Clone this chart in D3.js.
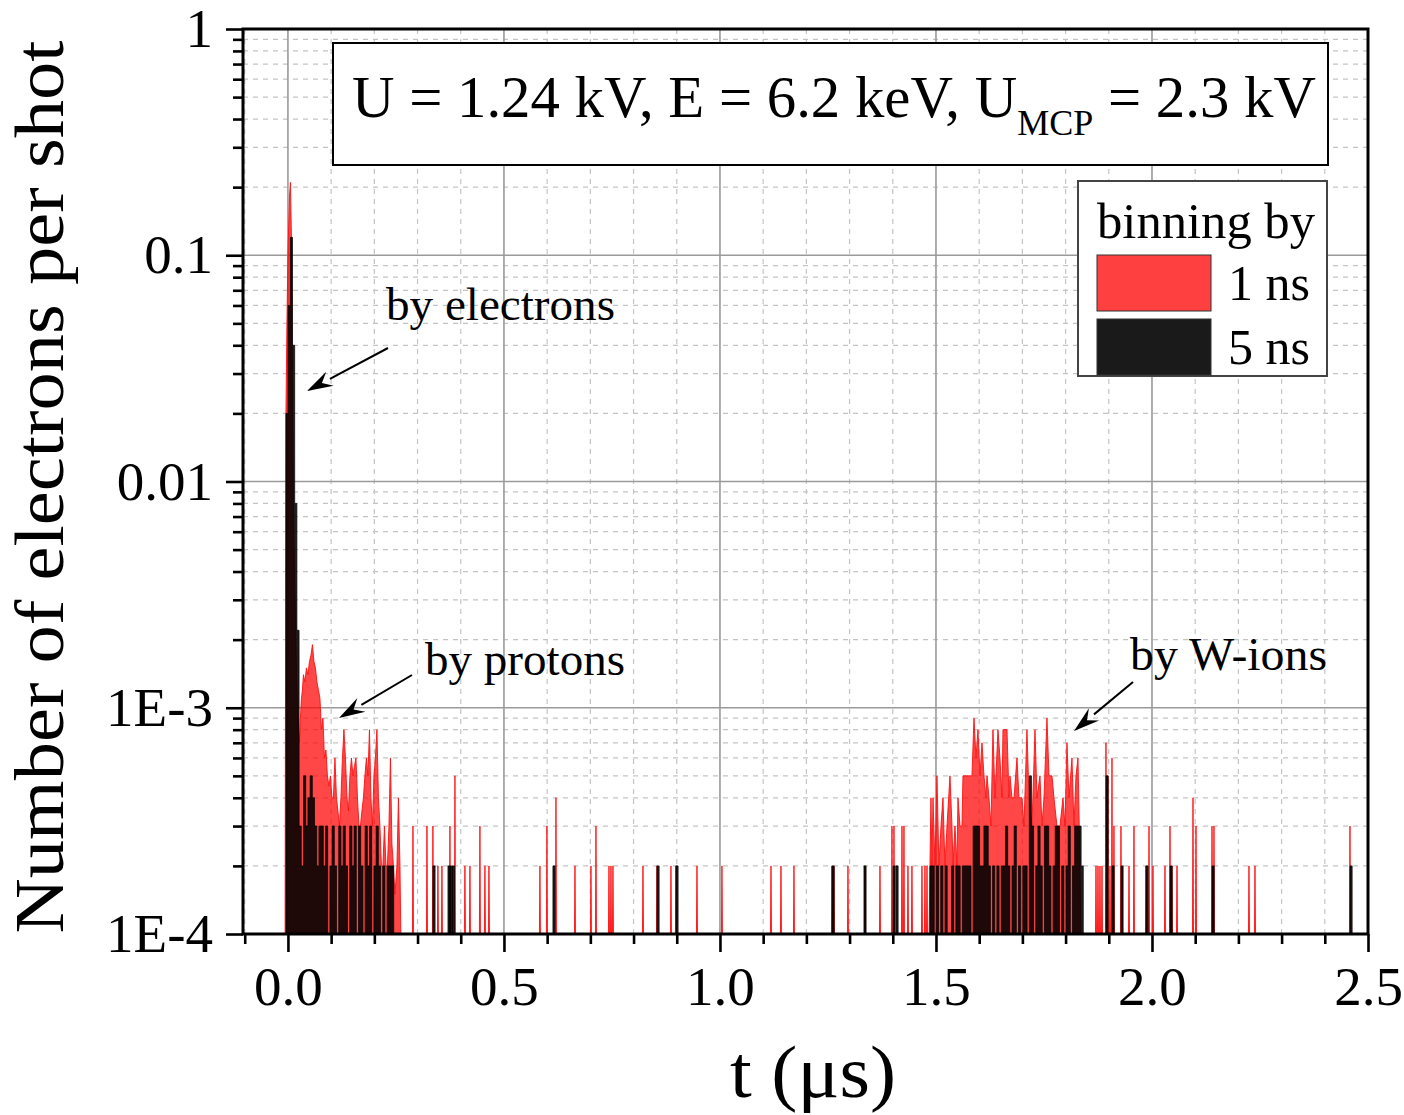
<!DOCTYPE html>
<html><head><meta charset="utf-8">
<script src="https://cdn.jsdelivr.net/npm/d3@7"></script>
<style>
html,body{margin:0;padding:0;background:#fff;}
svg{display:block;}
text{font-family:"Liberation Serif","Times New Roman",serif;fill:#000;white-space:pre;}
</style>
</head><body>
<svg id="c" width="1404" height="1115"></svg>
<script>
// ---------------- DATA ----------------
const xTickVals = [0, 0.5, 1.0, 1.5, 2.0, 2.5];
const yTickVals = [1, 0.1, 0.01, 1e-3, 1e-4];
const yTickLabels = ["1", "0.1", "0.01", "1E-3", "1E-4"];

// 1 ns binning (red): electron + proton region (contiguous)
const redPeakT = [-0.0046,-0.0023,0.0000,0.0035,0.0058,0.0081,0.0104,0.0127,0.0150,0.0174,0.0197,0.0220,0.0243,0.0266,0.0289,0.0313,0.0336,0.0359,0.0394,0.0428,0.0463,0.0498,0.0532,0.0567,0.0602,0.0637,0.0671,0.0706,0.0741,0.0775,0.0810,0.0845,0.0880,0.0914,0.0949,0.0984,0.1019,0.1053,0.1088,0.1123,0.1157,0.1192,0.1227,0.1262,0.1296,0.1331,0.1366,0.1400,0.1435,0.1470,0.1505,0.1539,0.1574,0.1609,0.1644,0.1678,0.1713,0.1748,0.1782,0.1817,0.1852,0.1887,0.1921,0.1956,0.1991,0.2025,0.2060,0.2095,0.2130,0.2164,0.2199,0.2234,0.2269,0.2303,0.2338,0.2373,0.2407,0.2442,0.2477,0.2523,0.2558,0.2593];
const redPeakV = [0.02,0.05,0.10,0.18,0.21,0.12,0.03,0.008,0.004,0.0025,0.0015,0.001,8e-4,7e-4,9e-4,1.1e-3,1.2e-3,1.4e-3,1.3e-3,1.5e-3,1.4e-3,1.6e-3,1.7e-3,1.9e-3,1.6e-3,1.5e-3,1.3e-3,1.2e-3,1.1e-3,8e-4,9e-4,6e-4,6.5e-4,5e-4,4.5e-4,5e-4,4e-4,4e-4,6e-4,4e-4,3.5e-4,3e-4,4e-4,6e-4,8e-4,6e-4,4e-4,3.5e-4,5e-4,6e-4,5e-4,5.5e-4,6e-4,4e-4,3e-4,3e-4,3.5e-4,4e-4,5e-4,6e-4,5e-4,8e-4,4e-4,3e-4,5e-4,6e-4,8e-4,4e-4,3e-4,2e-4,2e-4,3e-4,2e-4,2e-4,3e-4,6e-4,2.5e-4,2e-4,1.5e-4,2e-4,4e-4,2e-4];

// 1 ns binning (red): W-ion region (contiguous)
const redWionT = [1.4861,1.4884,1.4907,1.4931,1.4977,1.5023,1.5069,1.5116,1.5162,1.5208,1.5255,1.5324,1.5370,1.5394,1.5440,1.5486,1.5509,1.5556,1.5602,1.5625,1.5694,1.5764,1.5833,1.5880,1.5926,1.5972,1.6019,1.6065,1.6111,1.6157,1.6181,1.6227,1.6273,1.6319,1.6366,1.6435,1.6481,1.6528,1.6551,1.6644,1.6690,1.6713,1.6759,1.6806,1.6875,1.6921,1.6991,1.7037,1.7106,1.7153,1.7222,1.7292,1.7338,1.7407,1.7454,1.7500,1.7569,1.7616,1.7685,1.7731,1.7801,1.7870,1.7940,1.7986,1.8032,1.8079,1.8148,1.8194,1.8241,1.8287,1.8333];
const redWionV = [2e-4,4e-4,2e-4,4e-4,2e-4,5e-4,2e-4,3e-4,4e-4,2e-4,3e-4,5e-4,3e-4,2e-4,3e-4,2e-4,4e-4,3e-4,3e-4,5e-4,5e-4,5e-4,5e-4,9e-4,6e-4,8e-4,5e-4,7e-4,5e-4,4e-4,5e-4,4e-4,3e-4,8e-4,4e-4,8e-4,6e-4,4e-4,8e-4,8e-4,4e-4,5e-4,4e-4,4e-4,6e-4,4e-4,4e-4,3e-4,8e-4,4e-4,3e-4,8e-4,4e-4,5e-4,3e-4,4e-4,9e-4,5e-4,5e-4,4e-4,3e-4,3e-4,4e-4,3e-4,7e-4,4e-4,6e-4,3e-4,5e-4,6e-4,2e-4];

// 1 ns binning (red): isolated spikes
const redSpikeT = [0.2894,0.3218,0.3356,0.3472,0.3565,0.3750,0.3866,0.4097,0.4213,0.4444,0.4560,0.4653,
  0.5833,0.5995,0.6204,0.6644,0.7014,0.7130,0.7431,0.7477,0.7523,
  0.8218,0.8542,0.8866,0.8981,0.9468,1.0046,1.1181,1.1412,1.1713,1.2593,1.2639,1.2963,1.3356,1.3704,
  1.3981,1.4028,1.4213,1.4259,1.4352,1.4444,1.4676,1.4745,1.4792,
  1.8704,1.8750,1.8796,1.8843,1.8935,1.8981,1.9028,1.9074,1.9120,
  1.9282,1.9306,1.9468,1.9583,1.9861,1.9931,2.0023,2.0301,2.0417,2.0463,2.0579,
  2.0949,2.1019,2.1389,2.1435,2.2245,2.2384,2.4583];
const redSpikeV = [3e-4,3e-4,3e-4,2e-4,2e-4,3e-4,5e-4,2e-4,2e-4,3e-4,2e-4,2e-4,
  2e-4,3e-4,4e-4,2e-4,2e-4,3e-4,2e-4,2e-4,2e-4,
  2e-4,2e-4,2e-4,2e-4,2e-4,2e-4,2e-4,2e-4,2e-4,2e-4,2e-4,2e-4,2e-4,2e-4,
  3e-4,3e-4,3e-4,3e-4,2e-4,2e-4,2e-4,2e-4,2e-4,
  2e-4,2e-4,2e-4,2e-4,7e-4,5e-4,2e-4,6e-4,3e-4,
  3e-4,2e-4,2e-4,3e-4,2e-4,3e-4,2e-4,2e-4,3e-4,2e-4,2e-4,
  4e-4,3e-4,3e-4,3e-4,2e-4,2e-4,3e-4];

// 5 ns binning (black): bin start times and values
const blackPeakT = [-0.0046,0.0005,0.0056,0.0106,0.0157,0.0208,0.0259,0.0310,0.0361,0.0412,0.0463,0.0514,0.0565,0.0616,0.0667,0.0718,0.0769,0.0819,0.0870,0.0921,0.0972,0.1023,0.1074,0.1125,0.1176,0.1227,0.1278,0.1329,0.1380,0.1431,0.1481,0.1532,0.1583,0.1634,0.1685,0.1736,0.1787,0.1838,0.1889,0.1940,0.1991,0.2042,0.2093,0.2144,0.2194,0.2245,0.2296,0.2347,0.2398,0.2449];
const blackPeakV = [0.02,0.06,0.12,0.04,0.008,0.0022,3e-4,2e-4,5e-4,3e-4,4e-4,5e-4,4e-4,3e-4,2e-4,3e-4,3e-4,2e-4,3e-4,1e-4,2e-4,3e-4,2e-4,1e-4,3e-4,2e-4,3e-4,2e-4,1e-4,3e-4,2e-4,3e-4,1e-4,3e-4,2e-4,1e-4,3e-4,2e-4,3e-4,1e-4,2e-4,3e-4,2e-4,1e-4,2e-4,1e-4,2e-4,2e-4,2e-4,1e-4];

const blackWionT = [1.486,1.491,1.496,1.501,1.506,1.511,1.516,1.521,1.526,1.531,1.536,1.541,1.546,1.551,1.556,1.561,1.566,1.571,1.576,1.581,1.586,1.591,1.596,1.601,1.606,1.611,1.616,1.621,1.626,1.631,1.636,1.641,1.646,1.651,1.656,1.661,1.666,1.671,1.676,1.681,1.686,1.691,1.696,1.701,1.706,1.711,1.716,1.721,1.726,1.731,1.736,1.741,1.746,1.751,1.756,1.761,1.766,1.771,1.776,1.781,1.786,1.791,1.796,1.801,1.806,1.811,1.816,1.821,1.826,1.831,1.836];
const blackWionV = [2e-4,2e-4,1e-4,2e-4,1e-4,2e-4,1e-4,2e-4,1e-4,1e-4,
  2e-4,1e-4,2e-4,2e-4,1e-4,2e-4,2e-4,2e-4,2e-4,1e-4,
  3e-4,3e-4,3e-4,2e-4,2e-4,3e-4,3e-4,2e-4,1e-4,2e-4,
  1e-4,2e-4,1e-4,2e-4,2e-4,3e-4,2e-4,1e-4,2e-4,3e-4,
  1e-4,2e-4,1e-4,2e-4,2e-4,1e-4,5e-4,3e-4,1e-4,2e-4,
  3e-4,2e-4,1e-4,3e-4,3e-4,2e-4,1e-4,2e-4,3e-4,3e-4,
  1e-4,2e-4,1e-4,2e-4,3e-4,1e-4,2e-4,3e-4,3e-4,3e-4,
  2e-4];

const blackSpikeT = [0.3356,0.3704,0.3755,0.3806,0.6134,0.8542,0.8981,1.2593,1.3333,1.4005,1.4074,1.8935,1.9074,1.9282,1.9861,2.0417,2.1389,2.4583];
const blackSpikeV = [2e-4,2e-4,2e-4,2e-4,2e-4,2e-4,2e-4,2e-4,2e-4,2e-4,2e-4,5e-4,2e-4,2e-4,2e-4,2e-4,2e-4,2e-4];

const legendLabels = ["1 ns", "5 ns"];
const legendColors = ["#ff4040", "#1a1a1a"];

// ---------------- CHART ----------------
const svg = d3.select("#c");
const L = 243, R = 1368, T = 29, B = 934;
const x = d3.scaleLinear().domain([-0.104, 2.5]).range([L, R]);
const y = d3.scaleLog().domain([1e-4, 1]).range([B, T]).clamp(true);
const FLOOR = 1e-4;
const BIN1 = 0.001, BIN5 = 0.005;

svg.append("rect").attr("width", 1404).attr("height", 1115).attr("fill", "#fff");

// minor positions
const yMinor = [];
[1e-4, 1e-3, 1e-2, 1e-1].forEach(d => { for (let k = 2; k <= 9; k++) yMinor.push(d * k); });
const xMinor = [];
for (let i = -1; i <= 25; i++) { if (i % 5 !== 0) xMinor.push(i / 10); }

const grid = svg.append("g");
grid.selectAll(".gym").data(yMinor).join("line")
  .attr("x1", L).attr("x2", R).attr("y1", d => y(d)).attr("y2", d => y(d))
  .attr("stroke", "#c4c4c4").attr("stroke-width", 1.2).attr("stroke-dasharray", "5,5");
grid.selectAll(".gxm").data(xMinor).join("line")
  .attr("y1", T).attr("y2", B).attr("x1", d => x(d)).attr("x2", d => x(d))
  .attr("stroke", "#c4c4c4").attr("stroke-width", 1.2).attr("stroke-dasharray", "5,5");
grid.selectAll(".gyM").data([0.1, 0.01, 1e-3]).join("line")
  .attr("x1", L).attr("x2", R).attr("y1", d => y(d)).attr("y2", d => y(d))
  .attr("stroke", "#9a9a9a").attr("stroke-width", 1.6);
grid.selectAll(".gxM").data([0, 0.5, 1.0, 1.5, 2.0]).join("line")
  .attr("y1", T).attr("y2", B).attr("x1", d => x(d)).attr("x2", d => x(d))
  .attr("stroke", "#9a9a9a").attr("stroke-width", 1.6);

// clip
svg.append("clipPath").attr("id", "clip").append("rect")
  .attr("x", L).attr("y", T).attr("width", R - L).attr("height", B - T);
const plot = svg.append("g").attr("clip-path", "url(#clip)");

const area = d3.area().x(d => x(d.t)).y0(y(FLOOR)).y1(d => y(Math.max(d.v, FLOOR)));

function segPoints(T_, V_) {
  const pts = [{t: T_[0] - 0.002, v: FLOOR}];
  T_.forEach((t, i) => pts.push({t, v: V_[i]}));
  pts.push({t: T_[T_.length - 1] + 0.002, v: FLOOR});
  return pts;
}
function stepPoints(T_, V_, w) {
  const pts = [{t: T_[0], v: FLOOR}];
  T_.forEach((t, i) => { pts.push({t, v: V_[i]}); pts.push({t: t + w, v: V_[i]}); });
  pts.push({t: T_[T_.length - 1] + w, v: FLOOR});
  return pts;
}

// red series
const redPaths = [area(segPoints(redPeakT, redPeakV)), area(segPoints(redWionT, redWionV))];
redSpikeT.forEach((t, i) => redPaths.push(area([{t: t - 1.2 * BIN1, v: FLOOR}, {t, v: redSpikeV[i]}, {t: t + 1.2 * BIN1, v: FLOOR}])));
plot.append("path").attr("d", redPaths.join(""))
  .attr("fill", "rgba(255,0,0,0.72)").attr("stroke", "#ff1010").attr("stroke-width", 0.9)
  .attr("stroke-linejoin", "miter");

// black series
const blackPaths = [area(stepPoints(blackPeakT, blackPeakV, BIN5)), area(stepPoints(blackWionT, blackWionV, BIN5))];
blackSpikeT.forEach((t, i) => blackPaths.push(area(stepPoints([t], [blackSpikeV[i]], BIN5))));
plot.append("path").attr("d", blackPaths.join(""))
  .attr("fill", "rgba(0,0,0,0.88)").attr("stroke", "#000").attr("stroke-width", 0.7);

// axes
const yAxis = d3.axisLeft(y).tickValues(yTickVals).tickFormat((d, i) => yTickLabels[i]).tickSize(17).tickPadding(13);
const gy = svg.append("g").attr("transform", `translate(${L},0)`).call(yAxis);
const yAxisMinor = d3.axisLeft(y).tickValues(yMinor).tickFormat("").tickSize(10);
const gym = svg.append("g").attr("transform", `translate(${L},0)`).call(yAxisMinor);

const xAxis = d3.axisBottom(x).tickValues(xTickVals).tickFormat(d3.format(".1f")).tickSize(18).tickPadding(14);
const gx = svg.append("g").attr("transform", `translate(0,${B})`).call(xAxis);
const xAxisMinor = d3.axisBottom(x).tickValues(xMinor).tickFormat("").tickSize(10);
const gxm = svg.append("g").attr("transform", `translate(0,${B})`).call(xAxisMinor);

[gy, gym, gx, gxm].forEach(g => {
  g.select(".domain").remove();
  g.selectAll(".tick line").attr("stroke", "#000").attr("stroke-width", 2.6);
  g.selectAll("text").attr("font-family", "'Liberation Serif', serif").attr("font-size", 55).attr("fill", "#000");
});

// frame
svg.append("rect").attr("x", L).attr("y", T).attr("width", R - L).attr("height", B - T)
  .attr("fill", "none").attr("stroke", "#000").attr("stroke-width", 3);

// axis titles
svg.append("text").attr("transform", "translate(63,487) rotate(-90)")
  .attr("text-anchor", "middle").attr("font-size", 70)
  .attr("textLength", 893).attr("lengthAdjust", "spacingAndGlyphs")
  .text("Number of electrons per shot");
svg.append("text").attr("x", 813).attr("y", 1097).attr("text-anchor", "middle")
  .attr("font-size", 74).attr("textLength", 166).attr("lengthAdjust", "spacingAndGlyphs")
  .text("t (μs)");

// annotations
function arrow(x1, y1, x2, y2) {
  const a = Math.atan2(y2 - y1, x2 - x1), len = 26, hw = 8;
  const bx = x2 - len * Math.cos(a), by = y2 - len * Math.sin(a);
  svg.append("line").attr("x1", x1).attr("y1", y1).attr("x2", bx).attr("y2", by)
    .attr("stroke", "#000").attr("stroke-width", 2);
  const px = -Math.sin(a) * hw, py = Math.cos(a) * hw;
  svg.append("path").attr("d", `M${x2},${y2}L${bx + px},${by + py}L${bx + 0.35 * len * Math.cos(a)},${by + 0.35 * len * Math.sin(a)}L${bx - px},${by - py}Z`)
    .attr("fill", "#000");
}
const annots = [
  {text: "by electrons", x: 386, y: 320, w: 229, ax: [388, 348, 307, 391]},
  {text: "by protons", x: 425, y: 675, w: 200, ax: [412, 675, 339, 718]},
  {text: "by W-ions", x: 1130, y: 670, w: 197, ax: [1133, 682, 1074, 731]}
];
annots.forEach(a => {
  svg.append("text").attr("x", a.x).attr("y", a.y).attr("font-size", 47)
    .attr("textLength", a.w).attr("lengthAdjust", "spacingAndGlyphs").text(a.text);
  arrow(...a.ax);
});

// title box
svg.append("rect").attr("x", 333).attr("y", 43).attr("width", 995).attr("height", 122)
  .attr("fill", "#fff").attr("stroke", "#000").attr("stroke-width", 2);
const title = svg.append("text").attr("x", 352).attr("y", 117).attr("font-size", 58.8);
title.append("tspan").text("U = 1.24 kV, E = 6.2 keV, U");
title.append("tspan").attr("font-size", 36).attr("dy", 18).text("MCP");
title.append("tspan").attr("dy", -18).text(" = 2.3 kV");

// legend
svg.append("rect").attr("x", 1078).attr("y", 181).attr("width", 249).attr("height", 195)
  .attr("fill", "#fff").attr("stroke", "#444").attr("stroke-width", 2);
svg.append("text").attr("x", 1097).attr("y", 238).attr("font-size", 50)
  .attr("textLength", 218).attr("lengthAdjust", "spacingAndGlyphs").text("binning by");
legendLabels.forEach((lab, i) => {
  svg.append("rect").attr("x", 1097).attr("y", 255 + i * 64).attr("width", 114).attr("height", 56)
    .attr("fill", legendColors[i]).attr("stroke", "#333").attr("stroke-width", 1);
  svg.append("text").attr("x", 1228).attr("y", 300 + i * 64).attr("font-size", 50).text(lab);
});
</script>
</body></html>
